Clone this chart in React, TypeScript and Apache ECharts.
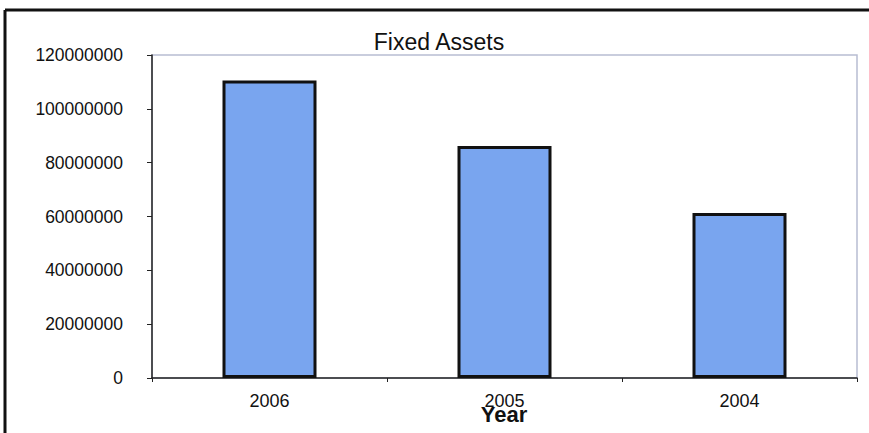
import React, { useEffect, useRef } from "react";
import * as echarts from "echarts";

const categories = ["2006", "2005", "2004"];
const fixedAssets = [110500000, 86200000, 61300000];
const yTicks = { min: 0, max: 120000000, interval: 20000000 };
const xAxisName = "Year";

const FONT = "Arial, 'Liberation Sans', sans-serif";

export default function App() {
  const ref = useRef<HTMLDivElement>(null);
  useEffect(() => {
    if (!ref.current) return;
    const chart = echarts.init(ref.current, undefined, { renderer: "svg" });
    chart.setOption({
      animation: false,
      backgroundColor: "#ffffff",
      title: {
        text: "Fixed Assets",
        left: 434,
        textAlign: "center",
        top: 25,
        textStyle: { fontFamily: FONT, fontSize: 23, fontWeight: "normal", color: "#111" },
      },
      grid: {
        left: 152,
        right: 12,
        top: 55,
        bottom: 55,
        containLabel: false,
        outerBoundsMode: "none",
        show: true,
        borderColor: "#b8bdd2",
        borderWidth: 1.5,
      },
      xAxis: {
        type: "category",
        data: categories,
        axisLine: { lineStyle: { color: "#222", width: 1.5 } },
        axisTick: { show: true, length: 4, lineStyle: { color: "#222" } },
        axisLabel: { margin: 14, fontFamily: FONT, fontSize: 18, color: "#111" },
      },
      yAxis: {
        type: "value",
        min: yTicks.min,
        max: yTicks.max,
        interval: yTicks.interval,
        axisLine: { show: true, lineStyle: { color: "#222", width: 1.5 } },
        axisTick: { show: true, length: 5, lineStyle: { color: "#222" } },
        splitLine: { show: false },
        axisLabel: {
          margin: 29,
          fontFamily: FONT,
          fontSize: 17.5,
          color: "#111",
          formatter: (v: number) => String(v),
        },
      },
      series: [
        {
          type: "bar",
          data: fixedAssets,
          barWidth: "40%",
          itemStyle: { color: "#79a5ef", borderColor: "#111", borderWidth: 3 },
        },
      ],
      graphic: [
        { type: "line", shape: { x1: 5, y1: 10, x2: 869, y2: 10 }, style: { stroke: "#111", lineWidth: 3 } },
        { type: "line", shape: { x1: 5, y1: 10, x2: 5, y2: 433 }, style: { stroke: "#111", lineWidth: 3 } },
        {
          type: "text",
          x: 504,
          y: 414,
          style: {
            text: xAxisName,
            fontFamily: FONT,
            fontSize: 22,
            fontWeight: "bold",
            fill: "#111",
            align: "center",
            verticalAlign: "middle",
          },
        },
      ],
    });
    return () => chart.dispose();
  }, []);
  return (
    <div
      ref={ref}
      style={{ position: "absolute", left: 0, top: 0, width: 869, height: 433 }}
    />
  );
}
